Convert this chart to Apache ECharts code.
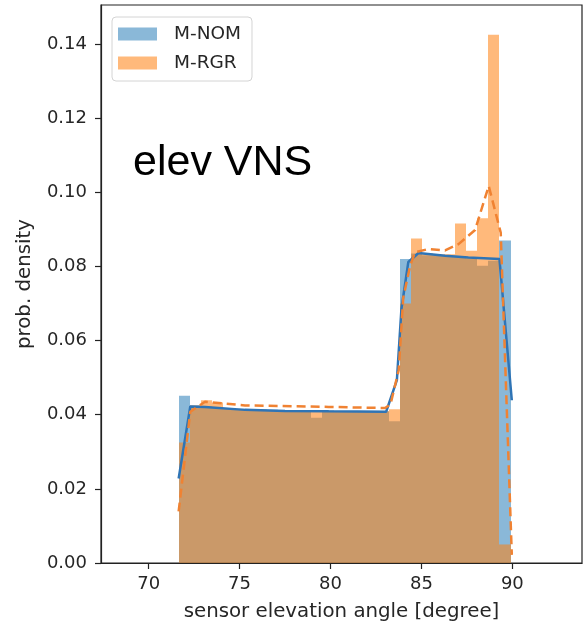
<!DOCTYPE html>
<html>
<head>
<meta charset="utf-8">
<title>elev VNS</title>
<script src="https://cdn.jsdelivr.net/npm/echarts@6/dist/echarts.min.js"></script>
<style>
html, body { margin: 0; padding: 0; background: #fff; }
#chart { width: 583px; height: 627px; }
</style>
</head>
<body>
<div id="chart"></div>
<script>
// histogram bin edges, sensor elevation angle [degree]
var binEdges = [71.65, 72.26, 72.87, 73.48, 74.08, 74.69, 75.30, 75.91, 76.52, 77.13, 77.73,
  78.34, 78.95, 79.56, 80.17, 80.78, 81.38, 81.99, 82.60, 83.21, 83.82,
  84.43, 85.03, 85.64, 86.25, 86.86, 87.47, 88.08, 88.68, 89.29, 89.90];

// bar heights (prob. density) per bin
var nomDensity = [0.0451, 0.0425, 0.0422, 0.0420, 0.0418, 0.0416, 0.0415, 0.0414, 0.0413, 0.0412,
  0.0412, 0.0411, 0.0392, 0.0411, 0.0410, 0.0410, 0.0410, 0.0409, 0.0409, 0.0382,
  0.0820, 0.0835, 0.0830, 0.0830, 0.0828, 0.0825, 0.0822, 0.0802, 0.0815, 0.0870];
var rgrDensity = [0.0325, 0.0425, 0.0439, 0.0433, 0.0418, 0.0413, 0.0412, 0.0412, 0.0411, 0.0411,
  0.0411, 0.0410, 0.0410, 0.0410, 0.0410, 0.0410, 0.0409, 0.0409, 0.0409, 0.0415,
  0.0700, 0.0875, 0.0835, 0.0832, 0.0833, 0.0916, 0.0842, 0.0930, 0.1425, 0.0050];

// density curves
var nomCurveX = [71.65, 72.29, 73.1, 75.3, 77.5, 79.9, 83.06, 83.65, 83.9, 84.28, 84.84, 86.3, 87.58, 89.29, 89.97];
var nomCurveY = [0.0228, 0.0422, 0.0421, 0.0413, 0.0410, 0.0409, 0.0408, 0.0493, 0.0685, 0.0812, 0.0836, 0.0829, 0.0824, 0.0820, 0.0439];
var rgrCurveX = [71.65, 72.29, 73.1, 75.3, 79.9, 83.0, 83.3, 83.75, 84.0, 84.38, 84.65, 85.4, 86.3, 87.04, 87.95, 88.7, 89.36, 89.97];
var rgrCurveY = [0.0139, 0.0408, 0.0435, 0.0425, 0.0421, 0.0418, 0.0428, 0.0520, 0.0715, 0.0802, 0.0838, 0.0847, 0.0843, 0.0860, 0.0898, 0.1017, 0.0891, 0.0022];

// tick labels
var xTicks = [70, 75, 80, 85, 90];
var yTicks = [0, 0.02, 0.04, 0.06, 0.08, 0.10, 0.12, 0.14];

var FONT = 'DejaVu Sans';
var AXIS_COLOR = '#222';
var TEXT_COLOR = '#262626';
var NOM_FILL = 'rgba(31,119,180,0.52)';
var RGR_FILL = 'rgba(255,127,14,0.55)';

function histData(density) {
  var out = [];
  for (var i = 0; i < density.length; i++) {
    out.push([binEdges[i], binEdges[i + 1], density[i]]);
  }
  return out;
}

function curveData(xs, ys) {
  return xs.map(function (x, i) { return [x, ys[i]]; });
}

// one rect per bin, snapped to whole pixels so neighbours don't leave seams
function renderBin(params, api) {
  var p0 = api.coord([api.value(0), api.value(2)]);
  var p1 = api.coord([api.value(1), 0]);
  var x0 = Math.round(p0[0]), x1 = Math.round(p1[0]);
  return {
    type: 'rect',
    shape: { x: x0, y: p0[1], width: x1 - x0, height: p1[1] - p0[1] },
    style: { fill: api.visual('color') }
  };
}

var myChart = echarts.init(document.getElementById('chart'));

var option = {
  backgroundColor: '#fff',
  animation: false,
  grid: {
    left: 101, top: 5, width: 481, height: 560,
    show: true, borderColor: AXIS_COLOR, borderWidth: 1.2, backgroundColor: 'transparent'
  },
  legend: {
    data: ['M-NOM', 'M-RGR'],
    orient: 'vertical',
    left: 112, top: 17,
    icon: 'rect',
    itemWidth: 39, itemHeight: 13, itemGap: 9,
    padding: [7, 11, 8, 6],
    backgroundColor: 'rgba(255,255,255,0.8)',
    borderColor: '#d4d4d4', borderWidth: 1, borderRadius: 4,
    textStyle: { fontFamily: FONT, fontSize: 18.5, color: TEXT_COLOR, lineHeight: 20, padding: [0, 0, 0, 12] }
  },
  xAxis: {
    type: 'value',
    min: 67.38, max: 93.83,
    name: 'sensor elevation angle [degree]',
    nameLocation: 'middle', nameGap: 39,
    nameTextStyle: { fontFamily: FONT, fontSize: 19.8, color: TEXT_COLOR },
    axisLine: { show: true, onZero: false, lineStyle: { color: AXIS_COLOR, width: 1.2 } },
    axisTick: { show: true, length: 6, customValues: xTicks, lineStyle: { color: AXIS_COLOR, width: 1.2 } },
    axisLabel: { customValues: xTicks, margin: 12, fontFamily: FONT, fontSize: 18, color: TEXT_COLOR },
    splitLine: { show: false }
  },
  yAxis: {
    type: 'value',
    min: 0, max: 0.1505,
    name: 'prob. density',
    nameLocation: 'middle', nameGap: 66,
    nameTextStyle: { fontFamily: FONT, fontSize: 19.8, color: TEXT_COLOR },
    axisLine: { show: true, lineStyle: { color: AXIS_COLOR, width: 1.2 } },
    axisTick: { show: true, length: 6, customValues: yTicks, lineStyle: { color: AXIS_COLOR, width: 1.2 } },
    axisLabel: {
      customValues: yTicks, margin: 14, fontFamily: FONT, fontSize: 18, color: TEXT_COLOR,
      formatter: function (v) { return v.toFixed(2); }
    },
    splitLine: { show: false }
  },
  graphic: [{
    type: 'text',
    left: 133, top: 142,
    z: 100,
    style: { text: 'elev VNS', font: '43px "Liberation Sans", Arial, sans-serif', fill: '#000' }
  }],
  series: [
    {
      name: 'M-NOM', type: 'custom', renderItem: renderBin,
      itemStyle: { color: NOM_FILL },
      encode: { x: [0, 1], y: 2 },
      data: histData(nomDensity), z: 2
    },
    {
      name: 'M-RGR', type: 'custom', renderItem: renderBin,
      itemStyle: { color: RGR_FILL },
      encode: { x: [0, 1], y: 2 },
      data: histData(rgrDensity), z: 3
    },
    {
      name: 'nom curve', type: 'line', showSymbol: false, z: 4,
      lineStyle: { color: '#2f74b5', width: 2.5 },
      data: curveData(nomCurveX, nomCurveY)
    },
    {
      name: 'rgr curve', type: 'line', showSymbol: false, z: 5,
      lineStyle: { color: '#f08232', width: 2.5, type: [9, 5] },
      data: curveData(rgrCurveX, rgrCurveY)
    }
  ]
};

myChart.setOption(option);
</script>
</body>
</html>
